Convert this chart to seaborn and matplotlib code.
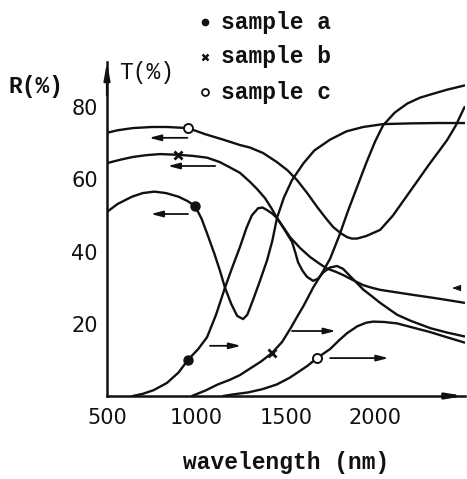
import numpy as np
import pandas as pd
import matplotlib
matplotlib.use("Agg")
import matplotlib.pyplot as plt
import seaborn as sns

# values (wavelength nm, percent)
ra_nm = [500, 560, 640, 700, 765, 830, 900, 950, 993, 1030, 1060, 1100, 1130, 1160, 1195,
         1228, 1261, 1285, 1317, 1355, 1395, 1425, 1451, 1490, 1535, 1600, 1660, 1748,
         1840, 1933, 2045, 2200, 2350, 2500]
ra_val = [51, 53.2, 55.2, 56.2, 56.6, 56.2, 55.2, 54, 52.6, 49, 45, 39.5, 35, 30, 25.5,
          22.2, 21.3, 22.5, 26.6, 31.8, 37.5, 43, 49.3, 55, 59.8, 64.5, 68, 71,
          73.3, 74.5, 75.3, 75.5, 75.6, 75.6]

ta_nm = [645, 700, 760, 835, 900, 953, 1010, 1060, 1110, 1160, 1200, 1244, 1280, 1310,
         1345, 1370, 1395, 1425, 1451, 1490, 1524, 1580, 1636, 1690, 1731, 1780, 1821,
         1880, 1933, 1980, 2028, 2120, 2213, 2350, 2476, 2500]
ta_val = [0, 0.6, 1.6, 3.6, 6.5, 10, 13, 16.3, 22.5, 30, 35.5, 41.3, 46.5, 50,
          52, 52.2, 51.5, 50.5, 49.3, 46.5, 44, 41, 38.5, 36.6, 35.3, 34.4, 33.5,
          32, 30.7, 30, 29.4, 28.7, 28, 27, 26, 25.8]

rb_nm = [500, 580, 645, 720, 797, 897, 980, 1060, 1130, 1188, 1244, 1300, 1340, 1384,
         1420, 1451, 1490, 1535, 1555, 1569, 1595, 1619, 1653, 1681, 1709, 1748, 1787,
         1821, 1860, 1900, 1933, 1980, 2028, 2080, 2123, 2200, 2308, 2400, 2500]
rb_val = [64.5, 65.5, 66.2, 66.7, 67, 66.8, 66.5, 66, 64.8, 63.3, 61.8, 59.3, 57.3, 54.8,
          52, 49.3, 46.3, 42.7, 39.5, 37, 34.6, 33, 31.9, 32.5, 34.2, 35.6, 36,
          35.2, 33.2, 31.2, 29.5, 27.7, 25.8, 24, 22.5, 20.8, 18.8, 17.6, 16.5]

tb_nm = [975, 1050, 1120, 1188, 1244, 1300, 1360, 1423, 1480, 1530, 1563, 1600, 1653,
         1700, 1748, 1800, 1850, 1900, 1950, 2000, 2045, 2110, 2180, 2250, 2310, 2400, 2500]
tb_val = [0, 1.5, 3.2, 4.5, 5.8, 7.6, 9.5, 11.9, 15, 19, 21.9, 25, 30,
          33.8, 38, 44.5, 51.5, 58, 64.5, 70.5, 75, 78.5, 81, 82.6, 83.5, 84.8, 86]

rc_nm = [500, 560, 645, 750, 836, 953, 1050, 1150, 1244, 1300, 1373, 1450, 1510, 1563,
         1620, 1675, 1720, 1765, 1810, 1843, 1870, 1899, 1950, 2028, 2100, 2150, 2213,
         2300, 2360, 2403, 2450, 2500]
rc_val = [72.9, 73.6, 74.2, 74.5, 74.5, 74.2, 72.5, 71, 69.5, 68.8, 67.3, 64.8, 62.5, 59.8,
          56.2, 52.4, 49.5, 46.8, 45, 44, 43.6, 43.6, 44.3, 46, 50, 53.5, 57.9,
          64, 68, 70.9, 74.8, 80]

tc_nm = [1150, 1200, 1290, 1370, 1450, 1520, 1563, 1620, 1675, 1748, 1800, 1843, 1900,
         1950, 1989, 2050, 2123, 2200, 2308, 2400, 2500]
tc_val = [0, 0.4, 1, 1.9, 3.2, 5, 6.4, 8.3, 10.5, 13, 15.5, 17.4, 19.3,
          20.3, 20.6, 20.5, 20.1, 19.1, 17.7, 16.3, 14.8]

# sample markers on the curves
mark_a = ([993, 953], [52.6, 10])
mark_b = ([897, 1423], [66.8, 11.9])
mark_c = ([953, 1675], [74.2, 10.5])

x_ticks = [500, 1000, 1500, 2000]
y_ticks = [20, 40, 60, 80]
legend_labels = ["sample a", "sample b", "sample c"]

# little arrows telling which scale a curve belongs to: (start nm, end nm, percent)
arrows = [(950, 735, 71.5), (1105, 840, 63.7), (953, 745, 50.4),
          (1076, 1250, 13.9), (1535, 1780, 18.0), (1748, 2075, 10.5)]

sns.set_style("white")
plt.rcParams["font.family"] = ["DejaVu Sans"]
INK = "#111111"
W, H = 467, 479

fig = plt.figure(figsize=(W / 100, H / 100), dpi=100)
ax = fig.add_axes([107 / W, 83 / H, (464.5 - 107) / W, 334 / H])

curves = [(ra_nm, ra_val), (ta_nm, ta_val), (rb_nm, rb_val),
          (tb_nm, tb_val), (rc_nm, rc_val), (tc_nm, tc_val)]
for xs, ys in curves:
    sns.lineplot(x=xs, y=ys, ax=ax, color=INK, lw=1.7, sort=False, estimator=None)

ax.plot(*mark_a, "o", color=INK, ms=6.5, zorder=5)
ax.plot(*mark_b, "x", color=INK, ms=6, mew=2, zorder=5)
ax.plot(*mark_c, "o", mfc="white", mec=INK, ms=6.5, mew=1.4, zorder=5)

for x0, x1, y in arrows:
    ax.annotate("", xy=(x1, y), xytext=(x0, y),
                arrowprops=dict(arrowstyle="-|>,head_length=0.7,head_width=0.18",
                                color=INK, lw=1.3, shrinkA=0, shrinkB=0))
ax.annotate("", xy=(2430, 29.9), xytext=(2460, 29.9),
            arrowprops=dict(arrowstyle="-|>,head_length=0.5,head_width=0.18",
                            color=INK, lw=0.8, shrinkA=0, shrinkB=0))

ax.set_xlim(500, 2500)
ax.set_ylim(0, 92.5)
ax.set_xticks(x_ticks)
ax.set_yticks(y_ticks)
ax.set_xticklabels([str(t) for t in x_ticks])
ax.set_yticklabels([str(t) for t in y_ticks])
ax.tick_params(direction="in", length=6, width=1.6, labelsize=15, colors=INK)
ax.tick_params(axis="y", pad=6.5)
ax.tick_params(axis="x", pad=9)
sns.despine(ax=ax)
for s in ["left", "bottom"]:
    ax.spines[s].set_linewidth(1.8)
    ax.spines[s].set_color(INK)

# axis arrow heads
ax.annotate("", xy=(0, 1.0), xytext=(0, 0.9), xycoords="axes fraction",
            arrowprops=dict(arrowstyle="-|>,head_length=1.0,head_width=0.18",
                            color=INK, lw=1.6, shrinkA=0, shrinkB=0))
ax.annotate("", xy=(1.0, 0), xytext=(0.94, 0), xycoords="axes fraction",
            arrowprops=dict(arrowstyle="-|>,head_length=0.9,head_width=0.15",
                            color=INK, lw=2.2, shrinkA=0, shrinkB=0))

mono = ["Liberation Mono", "DejaVu Sans Mono"]


def px(x, y):
    return x / W, 1 - y / H


fig.text(*px(36, 87), "R(%)", family=mono, fontsize=16.5, weight="bold",
         ha="center", va="center", color=INK)
fig.text(*px(147, 72), "T(%)", family=mono, fontsize=16.5,
         ha="center", va="center", color=INK)
fig.text(*px(286, 463), "wavelength (nm)", family=mono, fontsize=16.5, weight="bold",
         ha="center", va="center", color=INK)

rows = [22, 57, 92]
styles = [dict(marker="o", color=INK, ms=4.5),
          dict(marker="x", color=INK, ms=5, mew=1.8),
          dict(marker="o", mfc="white", mec=INK, ms=5, mew=1.3)]
for label, yrow, st in zip(legend_labels, rows, styles):
    fx, fy = px(205, yrow)
    fig.add_artist(plt.Line2D([fx], [fy], transform=fig.transFigure, ls="none", **st))
    fig.text(*px(221, yrow), label, family=mono, fontsize=16.5, weight="bold",
             ha="left", va="center", color=INK)

fig.savefig("out.png", dpi=100)
